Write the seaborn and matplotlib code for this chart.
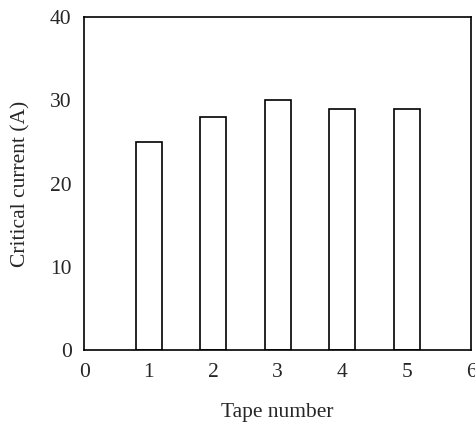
import matplotlib
matplotlib.use("Agg")
import matplotlib.pyplot as plt
import seaborn as sns
import pandas as pd

# Critical current of each tape
tapes = [1, 2, 3, 4, 5]
currents = [25, 28, 30, 29, 29]

sns.set_style("white")
plt.rcParams['font.family'] = ['Liberation Serif', 'DejaVu Serif']

df = pd.DataFrame({'tape': tapes, 'current': currents})

fig = plt.figure(figsize=(4.75, 4.26), dpi=100)
ax = fig.add_axes([0.177, 0.178, 0.815, 0.782])
sns.barplot(data=df, x='tape', y='current', native_scale=True, width=0.4,
            color='white', edgecolor='black', linewidth=1.2, ax=ax)

ax.set_xlim(0, 6)
ax.set_ylim(0, 40)
ax.set_xticks(range(0, 7))
ax.set_yticks(range(0, 41, 10))
ax.tick_params(length=0, labelsize=15.5, pad=9)
ax.set_xlabel('Tape number', fontsize=15.5, labelpad=15)
ax.set_ylabel('Critical current (A)', fontsize=15.5, labelpad=14)
for s in ax.spines.values():
    s.set_color('black')
    s.set_linewidth(1.2)

fig.savefig('out.png', dpi=100)
